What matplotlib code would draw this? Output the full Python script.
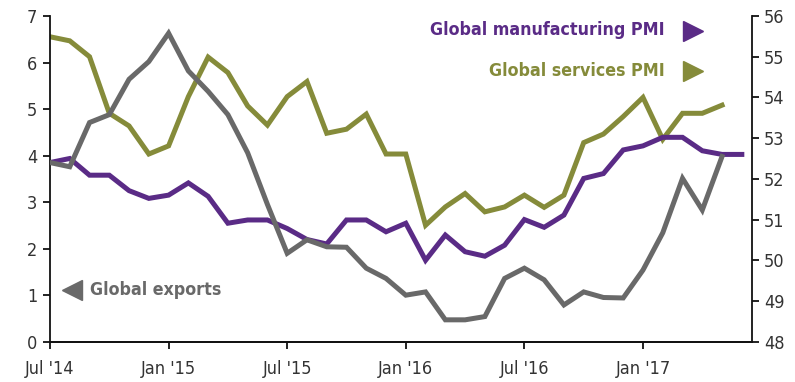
import matplotlib
matplotlib.use("Agg")
import matplotlib.pyplot as plt
import numpy as np

plt.rcParams['font.family'] = ['DejaVu Sans']

# Monthly data, Jul 2014 onwards
exports = [3.85, 3.76, 4.71, 4.88, 5.64, 6.02, 6.63, 5.82, 5.38, 4.88, 4.06, 2.95,
           1.90, 2.19, 2.04, 2.03, 1.58, 1.36, 1.00, 1.07, 0.47, 0.47, 0.54, 1.36,
           1.58, 1.33, 0.79, 1.07, 0.95, 0.94, 1.54, 2.34, 3.51, 2.83, 3.98]
mfg_pmi = [52.40, 52.50, 52.09, 52.09, 51.71, 51.52, 51.60, 51.90, 51.57, 50.91, 50.99, 50.99,
           50.78, 50.51, 50.40, 50.99, 50.99, 50.70, 50.91, 50.00, 50.62, 50.21, 50.10, 50.37,
           51.00, 50.81, 51.11, 52.01, 52.13, 52.71, 52.81, 53.02, 53.02, 52.69, 52.60, 52.60]
svc_pmi = [55.49, 55.39, 55.00, 53.61, 53.30, 52.61, 52.81, 54.02, 54.99, 54.61, 53.79, 53.32,
           54.02, 54.39, 53.12, 53.22, 53.59, 52.61, 52.61, 50.86, 51.31, 51.64, 51.19, 51.31,
           51.60, 51.30, 51.60, 52.89, 53.10, 53.53, 54.00, 52.97, 53.61, 53.61, 53.81]
tick_pos = [0, 6, 12, 18, 24, 30]
tick_labels = ["Jul '14", "Jan '15", "Jul '15", "Jan '16", "Jul '16", "Jan '17"]
left_ticks = [0, 1, 2, 3, 4, 5, 6, 7]
right_ticks = [48, 49, 50, 51, 52, 53, 54, 55, 56]

GRAY = '#696969'
PURPLE = '#5A2B86'
GREEN = '#858B3A'

fig = plt.figure(figsize=(7.95, 3.82), dpi=100)
ax = fig.add_axes([50/795, 1 - 341.7/382, 701.7/795, 325.7/382])
ax2 = ax.twinx()

ax.plot(np.arange(len(exports)), exports, color=GRAY, lw=3.6, solid_joinstyle='miter', zorder=3)
ax2.plot(np.arange(len(svc_pmi)), svc_pmi, color=GREEN, lw=3.6, solid_joinstyle='miter')
ax2.plot(np.arange(len(mfg_pmi)), mfg_pmi, color=PURPLE, lw=3.6, solid_joinstyle='miter')

ax.set_xlim(0, 35.5)
ax.set_ylim(0, 7)
ax2.set_ylim(48, 56)
ax.set_zorder(ax2.get_zorder() + 1)
ax.patch.set_visible(False)

ax.set_xticks(tick_pos)
ax.set_xticklabels(tick_labels)
ax.set_yticks(left_ticks)
ax2.set_yticks(right_ticks)

for a in (ax, ax2):
    a.spines['top'].set_visible(False)
    for s in ('left', 'right', 'bottom'):
        a.spines[s].set_linewidth(1.3)
        a.spines[s].set_color('#111111')
    a.tick_params(axis='both', labelsize=13, width=1.3, length=5, colors='#111111',
                  labelcolor='#333333')
    for lab in a.get_xticklabels() + a.get_yticklabels():
        lab.set_fontstretch('condensed')
        lab.set_fontweight('light')
ax.spines['right'].set_visible(False)
ax2.spines['left'].set_visible(False)
ax.tick_params(axis='x', pad=8)
ax.tick_params(axis='y', pad=4)
ax2.tick_params(axis='y', pad=4)

tkw = dict(transform=ax.transAxes, va='center', fontsize=12.8, fontweight='bold',
           fontstretch='condensed')
# annotations
ax.text(0.876, 0.957, 'Global manufacturing PMI', ha='right', color=PURPLE, **tkw)
ax.plot([0.916], [0.955], marker='>', markersize=14, color=PURPLE, transform=ax.transAxes,
        clip_on=False)
ax.text(0.876, 0.831, 'Global services PMI', ha='right', color=GREEN, **tkw)
ax.plot([0.916], [0.831], marker='>', markersize=14, color=GREEN, transform=ax.transAxes,
        clip_on=False)
ax.plot([0.032], [0.159], marker='<', markersize=14, color=GRAY, transform=ax.transAxes,
        clip_on=False)
ax.text(0.057, 0.159, 'Global exports', ha='left', color=GRAY, **tkw)

fig.savefig('out.png', dpi=100)
